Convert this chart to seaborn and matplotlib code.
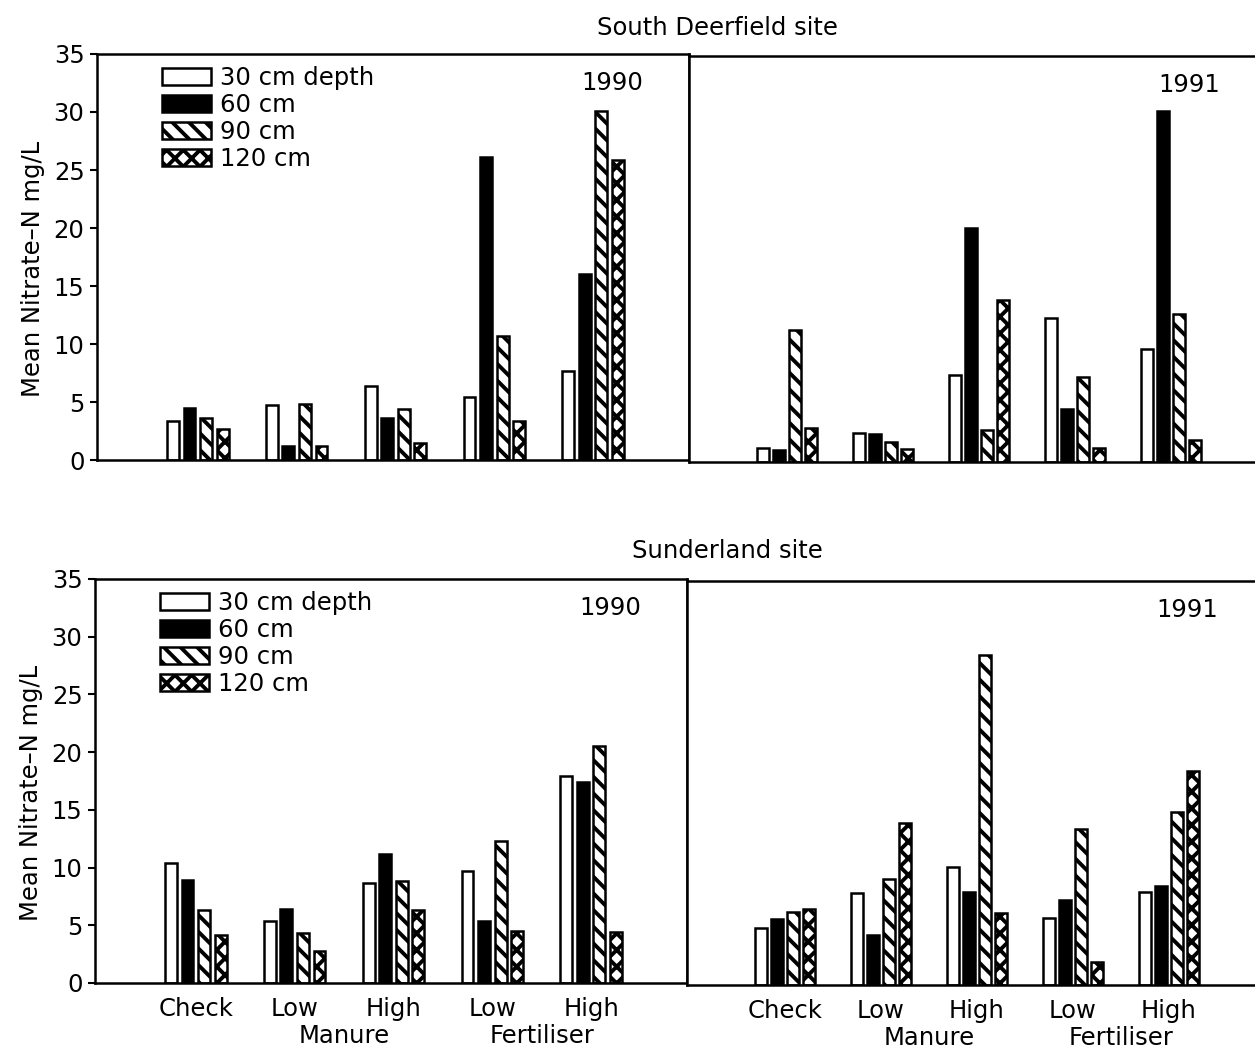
import numpy as np
import pandas as pd
import seaborn as sns
import matplotlib.pyplot as plt
import matplotlib.patches as mpatches

treatments = ["Check", "Low manure", "High manure", "Low fertiliser", "High fertiliser"]
tick_labels = ["Check", "Low", "High", "Low", "High"]
group_labels = ["Manure", "Fertiliser"]
depths = ["30 cm depth", "60 cm", "90 cm", "120 cm"]

# rows = depth (30, 60, 90, 120 cm), columns = treatment
deerfield_1990 = [
    [3.4, 4.7, 6.4, 5.4, 7.7],
    [4.5, 1.2, 3.6, 26.1, 16.0],
    [3.6, 4.8, 4.4, 10.7, 30.1],
    [2.7, 1.2, 1.5, 3.4, 25.9],
]
deerfield_1991 = [
    [1.2, 2.5, 7.5, 12.4, 9.7],
    [1.0, 2.4, 20.2, 4.6, 30.3],
    [11.4, 1.7, 2.8, 7.3, 12.8],
    [2.9, 1.1, 14.0, 1.2, 1.9],
]
sunderland_1990 = [
    [10.4, 5.4, 8.7, 9.7, 17.9],
    [8.9, 6.4, 11.2, 5.4, 17.4],
    [6.3, 4.3, 8.8, 12.3, 20.5],
    [4.2, 2.8, 6.3, 4.5, 4.4],
]
sunderland_1991 = [
    [4.9, 8.0, 10.2, 5.8, 8.1],
    [5.7, 4.3, 8.1, 7.4, 8.6],
    [6.3, 9.2, 28.6, 13.5, 15.0],
    [6.6, 14.0, 6.2, 2.0, 18.5],
]

fills = ["white", "black", "white", "white"]
hatches = [None, None, "\\\\", "xx"]

sns.set_style("ticks")
plt.rcParams["font.family"] = ["DejaVu Sans"]
plt.rcParams["hatch.linewidth"] = 2.8
plt.rcParams["hatch.color"] = "black"
plt.rcParams["text.color"] = "black"
plt.rcParams["axes.labelcolor"] = "black"
plt.rcParams["xtick.color"] = "black"
plt.rcParams["ytick.color"] = "black"
FS = 17.5


def draw_panel(ax, values, year, left, bottom):
    rows = [(t, d, v) for d, vals in zip(depths, values) for t, v in zip(treatments, vals)]
    df = pd.DataFrame(rows, columns=["treatment", "depth", "value"])
    sns.barplot(data=df, x="treatment", y="value", hue="depth",
                order=treatments, hue_order=depths,
                palette=dict(zip(depths, fills)), saturation=1,
                width=0.67, gap=0.28, edgecolor="black", linewidth=1.8,
                errorbar=None, legend=False, ax=ax)
    for cont, h in zip(ax.containers, hatches):
        if h:
            for bar in cont:
                bar.set_hatch(h)

    ax.set_xlim(-1.02, 4.97)
    ax.set_ylim(0, 35)
    ax.set_yticks(range(0, 36, 5))
    ax.set_xlabel("")
    for s in ax.spines.values():
        s.set_visible(True)
        s.set_linewidth(1.8)
        s.set_color("black")

    ax.tick_params(axis="x", length=0, labelsize=FS, pad=10)
    if bottom:
        ax.set_xticks(range(len(treatments)), tick_labels)
        for i, g in enumerate(group_labels):
            ax.text(1.5 + 2 * i, -0.13, g, fontsize=FS, ha="center", va="center",
                    transform=ax.get_xaxis_transform())
    else:
        ax.tick_params(axis="x", labelbottom=False)

    if left:
        ax.tick_params(axis="y", direction="out", length=5, width=1.5,
                       labelsize=FS, pad=4)
        ax.set_ylabel("Mean Nitrate\u2013N mg/L", fontsize=FS)
        ax.yaxis.set_label_coords(-0.088, 0.47)
        handles = [mpatches.Patch(facecolor=f, edgecolor="black", hatch=h, linewidth=1.8)
                   for f, h in zip(fills, hatches)]
        ax.legend(handles, depths, loc="upper left", bbox_to_anchor=(0.11, 0.97),
                  frameon=False, fontsize=FS, handlelength=2.0, handleheight=0.72,
                  handletextpad=0.4, labelspacing=0.12, borderpad=0, borderaxespad=0)
    else:
        ax.tick_params(axis="y", left=False, labelleft=False)
        ax.set_ylabel("")

    ax.text(0.87, 0.928, year, fontsize=FS, ha="center", va="center", transform=ax.transAxes)


fig = plt.figure(figsize=(12.55, 10.49), dpi=100)
ax_tl = fig.add_axes([97 / 1255, 1 - 460 / 1049, 592 / 1255, 406 / 1049])
ax_tr = fig.add_axes([689 / 1255, 1 - 462 / 1049, 575 / 1255, 406 / 1049])
ax_bl = fig.add_axes([95 / 1255, 1 - 983 / 1049, 592 / 1255, 404 / 1049])
ax_br = fig.add_axes([687 / 1255, 1 - 985 / 1049, 575 / 1255, 404 / 1049])

draw_panel(ax_tl, deerfield_1990, "1990", True, False)
draw_panel(ax_tr, deerfield_1991, "1991", False, False)
draw_panel(ax_bl, sunderland_1990, "1990", True, True)
draw_panel(ax_br, sunderland_1991, "1991", False, True)

fig.text(717 / 1255, 1 - 28 / 1049, "South Deerfield site", fontsize=FS, ha="center", va="center")
fig.text(727 / 1255, 1 - 551 / 1049, "Sunderland site", fontsize=FS, ha="center", va="center")

fig.savefig("out.png", dpi=100, facecolor="white")
